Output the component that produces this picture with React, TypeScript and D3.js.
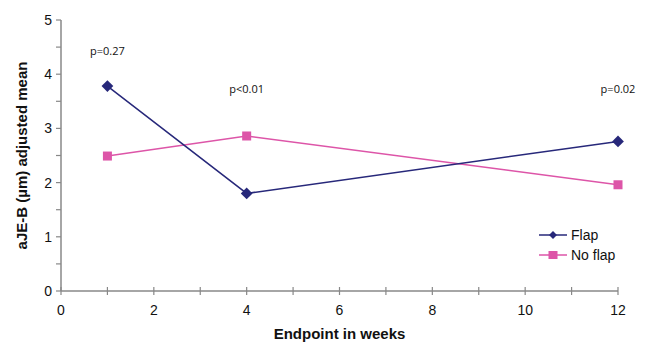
import React from "react";
import * as d3 from "d3";

const weeks = [1, 4, 12];
const flap = [3.78, 1.8, 2.76];
const noFlap = [2.49, 2.86, 1.96];
const pLabels = ["p=0.27", "p<0.01", "p=0.02"];
const pLabelY = [4.35, 3.65, 3.65];
const xTicks = [0, 2, 4, 6, 8, 10, 12];
const yTicks = [0, 1, 2, 3, 4, 5];
const seriesNames = ["Flap", "No flap"];

const W = 646, H = 346;
const FLAP = "#27287A";
const NOFLAP = "#DD55A8";
const AXIS = "#888888";

export default function App() {
  const x = d3.scaleLinear().domain([0, 12]).range([61, 618]);
  const y = d3.scaleLinear().domain([0, 5]).range([291, 20]);
  const line = d3.line<number>().x((_, i) => x(weeks[i])).y((d) => y(d));
  const xMinor = d3.range(0, 13, 1);
  const yMinor = d3.range(0, 5.01, 0.5);
  const font = "Liberation Sans, Arial, sans-serif";
  const diamond = d3.symbol().type(d3.symbolDiamond2).size(88)();
  return (
    <svg width={W} height={H} style={{ position: "absolute", left: 0, top: 0 }} fontFamily={font}>
      <rect width={W} height={H} fill="#fff" />
      {/* axes */}
      <line x1={x(0)} x2={x(0)} y1={y(0)} y2={y(5)} stroke={AXIS} strokeWidth={1.5} />
      <line x1={x(0)} x2={x(12)} y1={y(0)} y2={y(0)} stroke={AXIS} strokeWidth={1.5} />
      {yMinor.map((v) => (
        <line key={"ym" + v} x1={x(0) - 5} x2={x(0)} y1={y(v)} y2={y(v)} stroke={AXIS} strokeWidth={1.2} />
      ))}
      {xMinor.map((v) => (
        <line key={"xm" + v} x1={x(v)} x2={x(v)} y1={y(0) - 4} y2={y(0) + 4} stroke={AXIS} strokeWidth={1.2} />
      ))}
      {yTicks.map((v) => (
        <text key={"yt" + v} x={x(0) - 9} y={y(v)} dy="0.35em" textAnchor="end" fontSize={14} fill="#111">
          {v}
        </text>
      ))}
      {xTicks.map((v) => (
        <text key={"xt" + v} x={x(v)} y={y(0) + 24} textAnchor="middle" fontSize={14} fill="#111">
          {v}
        </text>
      ))}
      <text x={x(6)} y={339} textAnchor="middle" fontSize={15} fontWeight="bold" fill="#111">
        Endpoint in weeks
      </text>
      <text transform={`translate(27,${y(2.5)}) rotate(-90)`} textAnchor="middle" fontSize={15} fontWeight="bold" fill="#111">
        aJE-B (µm) adjusted mean
      </text>
      {/* lines */}
      <path d={line(noFlap) || ""} fill="none" stroke={NOFLAP} strokeWidth={1.5} />
      <path d={line(flap) || ""} fill="none" stroke={FLAP} strokeWidth={1.5} />
      {noFlap.map((v, i) => (
        <rect key={"nf" + i} x={x(weeks[i]) - 4.5} y={y(v) - 4.5} width={9} height={9} fill={NOFLAP} />
      ))}
      {flap.map((v, i) => (
        <path key={"f" + i} d={diamond || ""} transform={`translate(${x(weeks[i])},${y(v)})`} fill={FLAP} />
      ))}
      {pLabels.map((t, i) => (
        <text key={"p" + i} x={x(weeks[i])} y={y(pLabelY[i])} textAnchor="middle" fontSize={11} fontFamily="Open Sans, sans-serif" fill="#111">
          {t}
        </text>
      ))}
      {/* legend */}
      {seriesNames.map((n, i) => {
        const ly = 235 + i * 20;
        const c = i === 0 ? FLAP : NOFLAP;
        return (
          <g key={"lg" + n}>
            <line x1={539} x2={567} y1={ly} y2={ly} stroke={c} strokeWidth={1.5} />
            {i === 0 ? (
              <path d={d3.symbol().type(d3.symbolDiamond2).size(40)() || ""} transform={`translate(553,${ly})`} fill={c} />
            ) : (
              <rect x={548.5} y={ly - 4} width={9} height={8} fill={c} />
            )}
            <text x={571} y={ly} dy="0.35em" fontSize={14} fill="#111">
              {n}
            </text>
          </g>
        );
      })}
    </svg>
  );
}
